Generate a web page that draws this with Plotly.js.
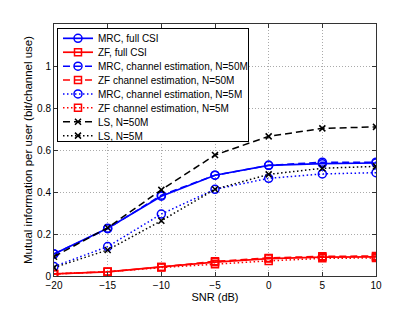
<!DOCTYPE html>
<html><head><meta charset="utf-8">
<script src="https://cdn.plot.ly/plotly-3.0.1.min.js"></script>
<style>body{margin:0;background:#fff}#c{width:415px;height:311px}</style>
</head><body><div id="c"></div><script>
const snr = [-20, -15, -10, -5, 0, 5, 10];
const mrcFull = [0.105, 0.227, 0.38, 0.48, 0.527, 0.535, 0.538];
const zfFull = [0.01, 0.02, 0.043, 0.066, 0.083, 0.09, 0.091];
const mrc50 = [0.105, 0.225, 0.385, 0.48, 0.527, 0.542, 0.542];
const zf50 = [0.01, 0.02, 0.043, 0.07, 0.086, 0.094, 0.095];
const mrc5 = [0.045, 0.14, 0.295, 0.413, 0.465, 0.486, 0.492];
const zf5 = [0.01, 0.02, 0.04, 0.056, 0.072, 0.084, 0.086];
const ls50 = [0.092, 0.23, 0.41, 0.576, 0.665, 0.703, 0.71];
const ls5 = [0.04, 0.124, 0.263, 0.413, 0.484, 0.513, 0.522];
const names = ['MRC, full CSI','ZF, full CSI','MRC, channel estimation, N=50M','ZF channel estimation, N=50M','MRC, channel estimation, N=5M','ZF channel estimation, N=5M','LS, N=50M','LS, N=5M'];
const xTickVals = [-20,-15,-10,-5,0,5,10];
const xTickText = ['\u221220','\u221215','\u221210','\u22125','0','5','10'];
const yTickVals = [0,0.2,0.4,0.6,0.8,1];
const yTickText = ['0','0.2','0.4','0.6','0.8','1'];

const blue='#0000ff', red='#ff0000', blk='#000000';
const DASH='7px,4px', DOT='1.5px,2.5px';
function tr(y,name,color,dash,sym,size){
  return {x:snr,y:y,name:name,type:'scatter',mode:'lines+markers',
    line:{color:color,width:dash==='solid'?1.7:1.5,dash:dash},
    marker:{symbol:sym,size:size,color:color,line:{color:color,width:1.5}}};
}
const data=[
  tr(mrcFull,names[0],blue,'solid','circle-open',8),
  tr(zfFull,names[1],red,'solid','square-open',7),
  tr(mrc50,names[2],blue,DASH,'circle-open',8),
  tr(zf50,names[3],red,DASH,'square-open',7),
  tr(mrc5,names[4],blue,DOT,'circle-open',8),
  tr(zf5,names[5],red,DOT,'square-open',7),
  tr(ls50,names[6],blk,DASH,'x-thin-open',6),
  tr(ls5,names[7],blk,DOT,'x-thin-open',6)
];
const FAM='Liberation Sans, Arial, sans-serif';
const font={family:FAM,size:10,color:'#000'};
const axCommon={showgrid:true,gridcolor:'#aaa',griddash:'1px,2px',gridwidth:1,zeroline:false,
    showline:true,linecolor:'#333',linewidth:1,mirror:'ticks',ticks:'inside',ticklen:4,tickcolor:'#333',tickfont:font};
const layout={
  width:415,height:311,margin:{l:54,r:39,t:24,b:35},
  paper_bgcolor:'#fff',plot_bgcolor:'#fff',font:font,showlegend:true,
  xaxis:Object.assign({},axCommon,{range:[-20,10],tickvals:xTickVals,ticktext:xTickText,
    title:{text:'SNR (dB)',font:{family:FAM,size:11,color:'#000'},standoff:3}}),
  yaxis:Object.assign({},axCommon,{range:[0,1.2],tickvals:yTickVals,ticktext:yTickText,
    title:{text:'Mutual information per user (bit/channel use)',font:{family:FAM,size:11.5,color:'#000'},standoff:2}}),
  legend:{x:0.0093,y:0.984,xanchor:'left',yanchor:'top',bgcolor:'#fff',bordercolor:'#000',borderwidth:1,
    font:{family:FAM,size:10,color:'#000'},tracegroupgap:0,itemwidth:30}
};
Plotly.newPlot('c',data,layout,{displayModeBar:false,staticPlot:true}).then(gd=>{
  // compact the legend rows to the reference spacing
  const leg=gd.querySelector('.legend');
  const items=leg.querySelectorAll('.traces');
  items.forEach((g,i)=>{
    const t=g.getAttribute('transform')||'';
    const m=/translate\(\s*([-\d.e]+)/.exec(t);
    const x=m?m[1]:0;
    g.setAttribute('transform','translate('+x+','+(10.3+i*13.9)+')');
  });
  const bg=leg.querySelector('rect.bg');
  if(bg){bg.setAttribute('height',113);bg.setAttribute('width',191);}
});
</script></body></html>
